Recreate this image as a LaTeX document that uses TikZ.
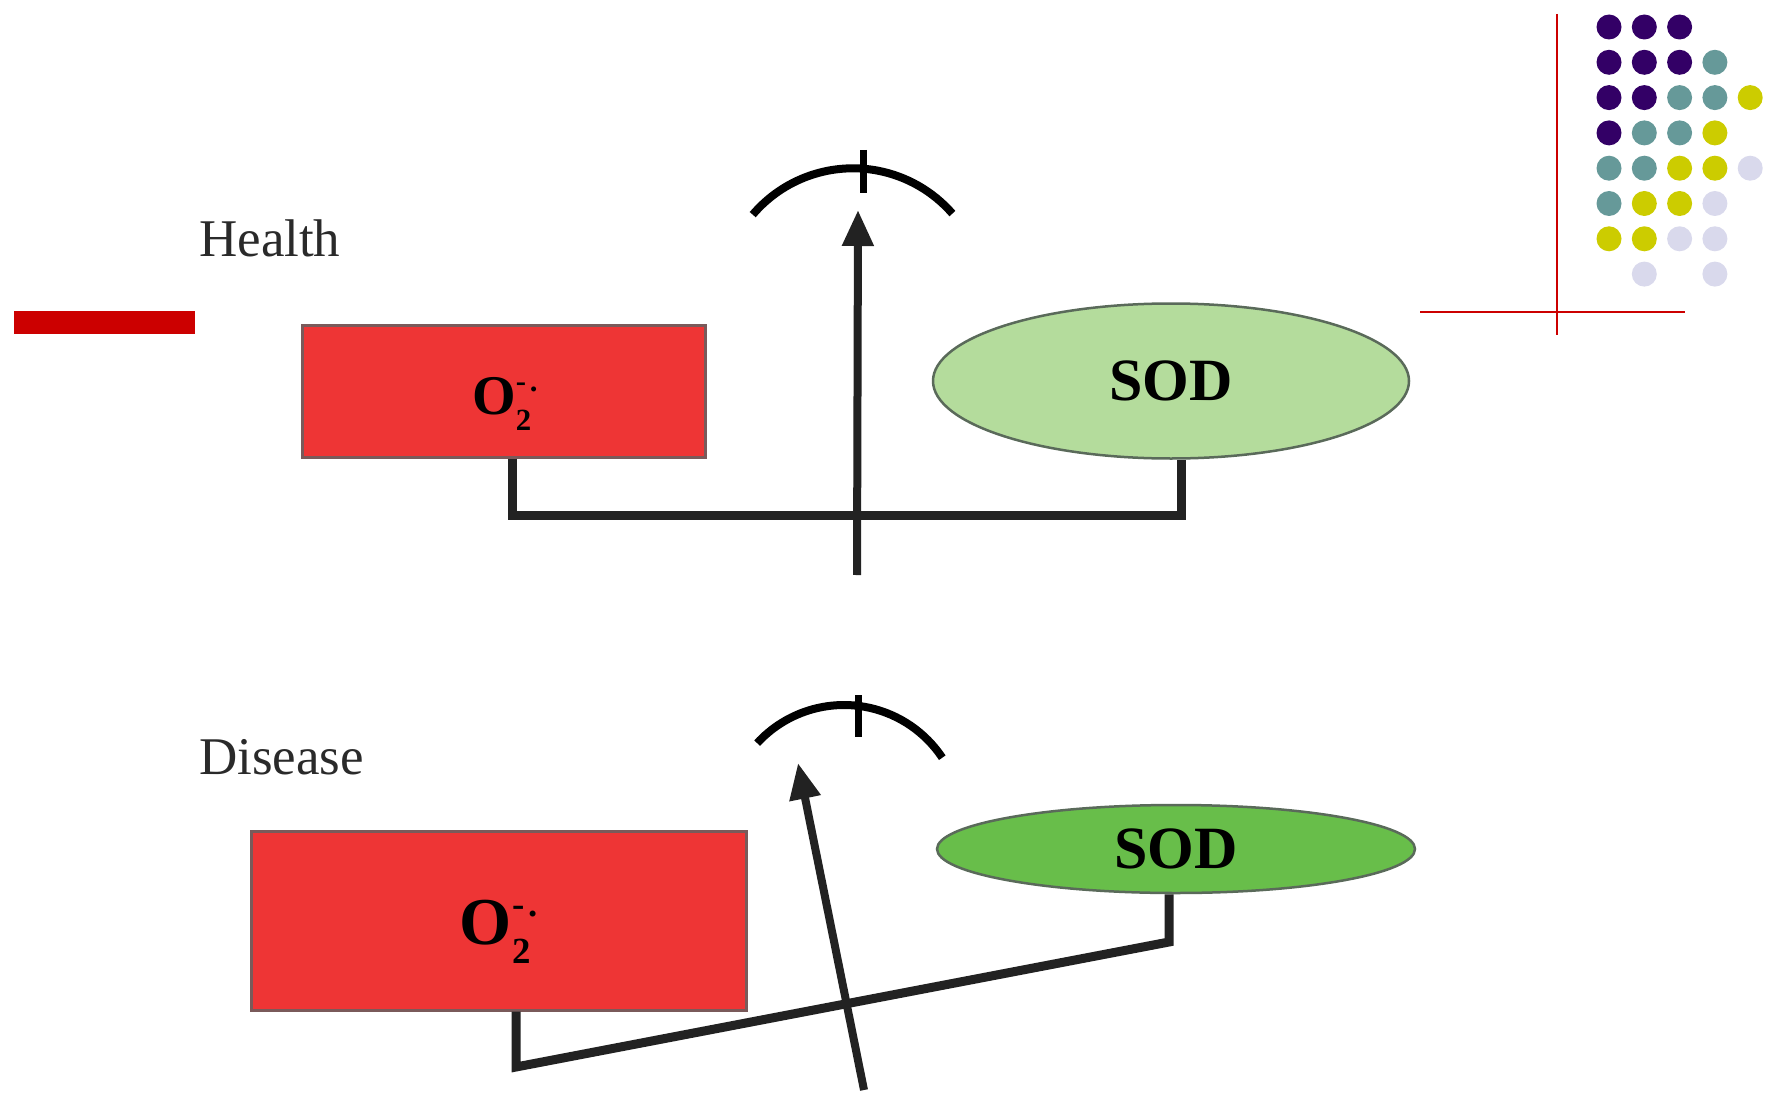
\documentclass[tikz,border=0pt]{standalone}
\usepackage{fontspec}
\setmainfont{Liberation Serif}
\usetikzlibrary{arrows.meta,shapes.geometric}

\definecolor{o2red}{HTML}{EE3535}
\definecolor{boxedge}{HTML}{7A5A5A}
\definecolor{sodlight}{HTML}{B4DC9C}
\definecolor{soddark}{HTML}{68BE4A}
\definecolor{sodedge}{HTML}{5A6A5A}
\definecolor{beam}{HTML}{222222}
\definecolor{labelgray}{HTML}{2A2A2A}
\definecolor{dotP}{HTML}{330066}
\definecolor{dotT}{HTML}{669999}
\definecolor{dotY}{HTML}{CCCC00}
\definecolor{dotL}{HTML}{D9D9EC}
\definecolor{accent}{HTML}{CC0000}

% superoxide radical anion
\newcommand{\superox}[1]{\fontsize{#1}{#1}\selectfont\bfseries
  O\rlap{\raisebox{-0.28em}{\fontsize{0.55\dimexpr#1\relax}{1}\selectfont 2}}%
  \raisebox{0.42em}{\fontsize{0.55\dimexpr#1\relax}{1}\selectfont -\kern0.12em.}}
\def\emptyslot{N}

\begin{document}
\begin{tikzpicture}[x=1pt,y=-1pt,
  o2box/.style={rectangle, draw=boxedge, line width=3pt, fill=o2red, inner sep=0pt},
  sodnode/.style={ellipse, draw=sodedge, line width=2.5pt, inner sep=0pt,
    font=\fontsize{60}{60}\selectfont\bfseries},
  beamline/.style={draw=beam, line width=9pt},
  arrowline/.style={draw=beam, line width=8pt,
    -{Triangle[length=36pt,width=30pt]}},
  fulcrum/.style={draw=black, line width=8pt},
  statelabel/.style={anchor=base west, text=labelgray, inner sep=0pt,
    font=\fontsize{53}{60}\selectfont},
  accentline/.style={draw=accent, line width=2.2pt},
  dot/.style={fill=#1, draw=none}]

\useasboundingbox (0,0) rectangle (1775,1094);

% corner decoration
\fill[accent] (14,311) rectangle (195,334);
\draw[accentline] (1557,14) -- (1557,335);
\draw[accentline] (1420,312) -- (1685,312);
\foreach \row/\cols in {1/{P,P,P}, 2/{P,P,P,T}, 3/{P,P,T,T,Y}, 4/{P,T,T,Y},
    5/{T,T,Y,Y,L}, 6/{T,Y,Y,L}, 7/{Y,Y,L,L}, 8/{N,L,N,L}} {
  \foreach \c [count=\i] in \cols {
    \ifx\c\emptyslot\else
      \fill[dot=dot\c] ({1609+35.3*(\i-1)},{27+35.3*(\row-1)}) circle[radius=12.5];
    \fi
  }
}

% ---- health: balanced ----
\node[statelabel] (health) at (199,256) {Health};
\node[o2box, minimum width=403pt, minimum height=132pt] (o2top) at (503.5,391) {};
\node at (505,404) (o2toplabel) {\superox{56pt}};
\node[sodnode, fill=sodlight, minimum width=476pt, minimum height=155pt]
  (sodtop) at (1171,381) {\raisebox{-3pt}{SOD}};

\coordinate (bl1) at (512,515);
\coordinate (br1) at (1181,515);
\draw[beamline] (o2top.south -| bl1) -- (bl1) -- (br1) -- (br1 |- sodtop.south);

\coordinate (tail1) at (857,575);
\coordinate (tip1) at (858,210);
\draw[arrowline] (tail1) -- (tip1);

\coordinate (arc1c) at (853,300);
\draw[fulcrum] (arc1c) ++(-139.6:131.7) arc[start angle=-139.6, end angle=-41, radius=131.7];
\draw[fulcrum, line width=7pt] (863,150) coordinate (tick1a) -- (863,193) coordinate (tick1b);

% ---- disease: tipped ----
\node[statelabel] (disease) at (199,774) {Disease};
\node[o2box, minimum width=495pt, minimum height=179pt] (o2bot) at (498.5,920.5) {};
\node at (499,932) (o2botlabel) {\superox{67pt}};
\node[sodnode, fill=soddark, minimum width=478pt, minimum height=88pt]
  (sodbot) at (1176,849) {SOD};

\coordinate (bl2) at (516,1067);
\coordinate (br2) at (1169,942);
\draw[beamline] (o2bot.south -| bl2) -- (bl2) -- (br2) -- (br2 |- sodbot.south);

\coordinate (tail2) at (864,1090);
\coordinate (tip2) at (798,763);
\draw[arrowline] (tail2) -- (tip2);

\coordinate (arc2c) at (844,823);
\draw[fulcrum] (arc2c) ++(-137.4:118) arc[start angle=-137.4, end angle=-33.6, radius=118];
\draw[fulcrum, line width=7pt] (858,695) coordinate (tick2a) -- (858,737) coordinate (tick2b);

\end{tikzpicture}
\end{document}
